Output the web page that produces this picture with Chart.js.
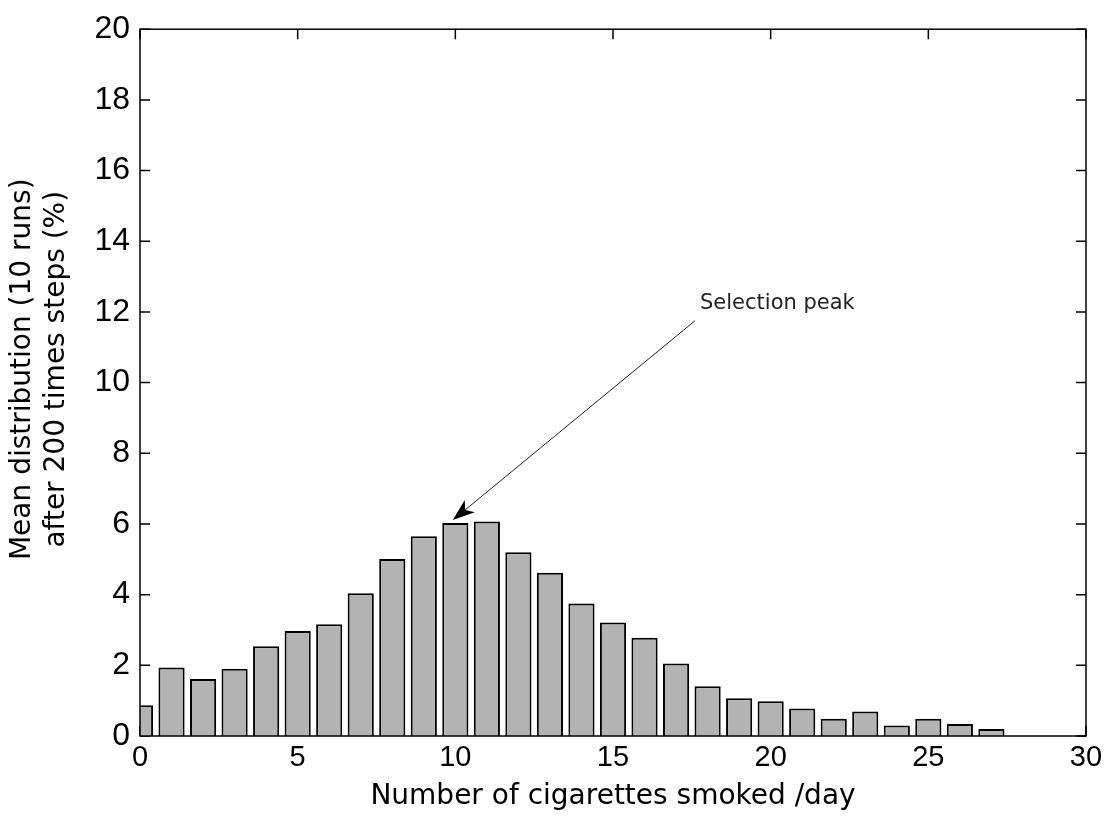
<!DOCTYPE html>
<html>
<head>
<meta charset="utf-8">
<script src="https://cdn.jsdelivr.net/npm/chart.js@4/dist/chart.umd.min.js"></script>
<style>
  body { margin: 0; background: #fff; }
  #wrap { width: 1115px; height: 820px; }
</style>
</head>
<body>
<div id="wrap"><canvas id="smoking-chart"></canvas></div>
<script>
// Bar centres: number of cigarettes smoked per day
const cigarettes = [0, 1, 2, 3, 4, 5, 6, 7, 8, 9, 10, 11, 12, 13, 14, 15, 16, 17, 18, 19, 20, 21, 22, 23, 24, 25, 26, 27];
// Mean distribution over 10 runs after 200 time steps (%)
const meanDistribution = [0.87, 1.94, 1.61, 1.90, 2.54, 2.97, 3.16, 4.04, 5.01, 5.65, 6.03, 6.07, 5.20, 4.62,
                          3.75, 3.21, 2.78, 2.05, 1.41, 1.07, 0.98, 0.78, 0.49, 0.69, 0.30, 0.49, 0.34, 0.20];

// Axis ranges and tick steps
const xRange = [0, 30];
const xStep = 5;
const yRange = [0, 20];
const yStep = 2;

// Annotation, in data units
const noteText = 'Selection peak';
const notePos = [17.76, 12.07];
const arrowTail = [17.6, 11.75];
const arrowTip = [9.92, 6.11];

// Frame and inward tick marks (MATLAB style box)
const matlabBox = {
    id: 'matlabBox',
    beforeDatasetsDraw(chart) {
        const { ctx, chartArea: a, scales: { x, y } } = chart;
        ctx.save();
        ctx.strokeStyle = '#000';
        ctx.lineWidth = 1.5;
        ctx.beginPath();
        x.ticks.forEach(t => {
            const px = x.getPixelForValue(t.value);
            ctx.moveTo(px, a.bottom);
            ctx.lineTo(px, a.bottom - 10);
            ctx.moveTo(px, a.top);
            ctx.lineTo(px, a.top + 10);
        });
        y.ticks.forEach(t => {
            const py = y.getPixelForValue(t.value);
            ctx.moveTo(a.left, py);
            ctx.lineTo(a.left + 10, py);
            ctx.moveTo(a.right, py);
            ctx.lineTo(a.right - 10, py);
        });
        ctx.stroke();
        ctx.restore();
    },
    afterDatasetsDraw(chart) {
        const { ctx, chartArea: a, scales: { x, y } } = chart;
        ctx.save();
        ctx.strokeStyle = '#000';
        ctx.lineWidth = 1.5;
        ctx.strokeRect(a.left, a.top, a.right - a.left, a.bottom - a.top);

        // arrow pointing at the peak
        const sx = x.getPixelForValue(arrowTail[0]);
        const sy = y.getPixelForValue(arrowTail[1]);
        const tx = x.getPixelForValue(arrowTip[0]);
        const ty = y.getPixelForValue(arrowTip[1]);
        const ang = Math.atan2(ty - sy, tx - sx);
        const cos = Math.cos(ang), sin = Math.sin(ang);
        ctx.strokeStyle = '#222';
        ctx.lineWidth = 1;
        ctx.beginPath();
        ctx.moveTo(sx, sy);
        ctx.lineTo(tx - 14 * cos, ty - 14 * sin);
        ctx.stroke();

        const len = 22, half = 8, back = 16;
        ctx.fillStyle = '#000';
        ctx.beginPath();
        ctx.moveTo(tx, ty);
        ctx.lineTo(tx - len * cos - half * sin, ty - len * sin + half * cos);
        ctx.lineTo(tx - back * cos, ty - back * sin);
        ctx.lineTo(tx - len * cos + half * sin, ty - len * sin - half * cos);
        ctx.closePath();
        ctx.fill();

        // label
        ctx.fillStyle = '#222';
        ctx.font = '21px "DejaVu Sans"';
        ctx.textAlign = 'left';
        ctx.textBaseline = 'alphabetic';
        ctx.fillText(noteText, x.getPixelForValue(notePos[0]), y.getPixelForValue(notePos[1]));
        ctx.restore();
    }
};

function drawChart() {
    const ctx = document.getElementById('smoking-chart');

    Chart.defaults.font.family = '"DejaVu Sans"';
    Chart.defaults.color = '#000';

    // leading spaces nudge the centred y title a little upwards, as in the original
    const pad = '\u00a0\u00a0\u00a0';

    new Chart(ctx, {
        type: 'bar',
        data: {
            datasets: [{
                data: cigarettes.map((c, i) => ({ x: c, y: meanDistribution[i] })),
                backgroundColor: '#b3b3b3',
                borderColor: '#000',
                borderWidth: 2,
                barPercentage: 0.83,
                categoryPercentage: 1,
                clip: 0
            }]
        },
        options: {
            responsive: true,
            maintainAspectRatio: false,
            animation: false,
            layout: { padding: { left: 6, top: 23, right: 29, bottom: 0 } },
            plugins: {
                legend: { display: false },
                tooltip: { enabled: false }
            },
            scales: {
                x: {
                    type: 'linear',
                    offset: false,
                    min: xRange[0],
                    max: xRange[1],
                    grid: { display: false, drawTicks: false },
                    border: { display: false },
                    ticks: {
                        stepSize: xStep,
                        padding: 5,
                        maxRotation: 0,
                        font: { family: '"Liberation Sans"', size: 29 }
                    },
                    title: {
                        display: true,
                        text: 'Number of cigarettes smoked /day',
                        font: { size: 28 },
                        padding: { top: 0, bottom: 6 }
                    },
                    afterFit(scale) { scale.height = 84; }
                },
                y: {
                    min: yRange[0],
                    max: yRange[1],
                    grid: { display: false, drawTicks: false },
                    border: { display: false },
                    ticks: {
                        stepSize: yStep,
                        padding: 10,
                        font: { family: '"Liberation Sans"', size: 32 }
                    },
                    title: {
                        display: true,
                        text: [pad + 'Mean distribution (10 runs)', pad + 'after 200 times steps (%)'],
                        font: { size: 28, lineHeight: 1.214 },
                        padding: { top: 0, bottom: 0 }
                    },
                    afterFit(scale) { scale.width = 134; }
                }
            }
        },
        plugins: [matlabBox]
    });
}

drawChart();
</script>
</body>
</html>
